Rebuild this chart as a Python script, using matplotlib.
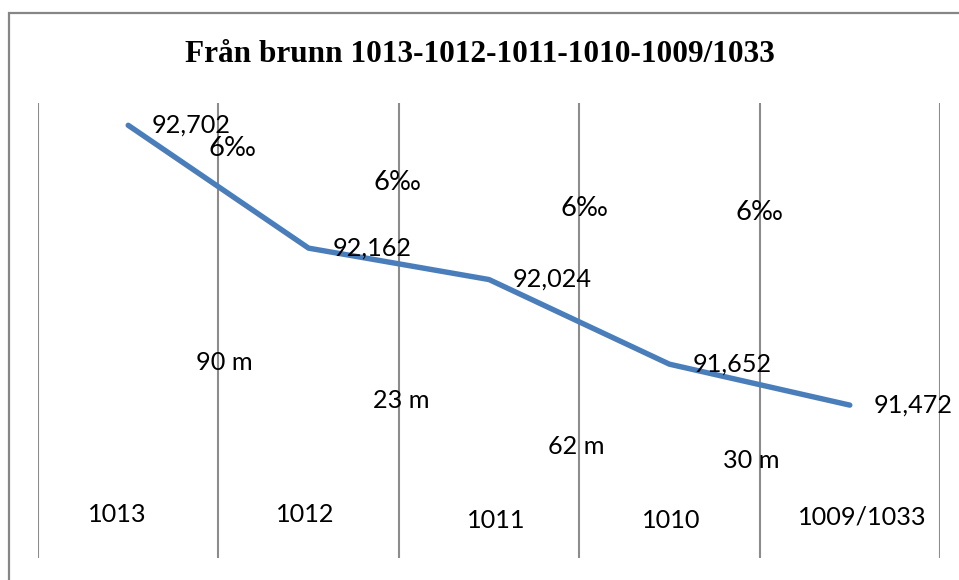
import matplotlib
matplotlib.use('Agg')
import matplotlib.pyplot as plt
from matplotlib.patches import Rectangle

# data
wells = ['1013', '1012', '1011', '1010', '1009/1033']
levels = [92.702, 92.162, 92.024, 91.652, 91.472]
level_labels = ['92,702', '92,162', '92,024', '91,652', '91,472']
slopes = ['6‰', '6‰', '6‰', '6‰']
lengths = ['90 m', '23 m', '62 m', '30 m']
title = 'Från brunn 1013-1012-1011-1010-1009/1033'

W, H = 959, 580
fig = plt.figure(figsize=(W / 100, H / 100), dpi=100)

# outer chart frame (runs off the image at right and bottom)
fig.patches.append(Rectangle((9 / W, -0.1), 1.2, (H - 13) / H + 0.1,
                             transform=fig.transFigure, fill=False,
                             edgecolor='#868686', linewidth=1.6))

left, right, top, bottom = 38, 940, 103, 558
ax = fig.add_axes([left / W, (H - bottom) / H, (right - left) / W, (bottom - top) / H])
ax.set_xlim(-0.5, len(wells) - 0.5)
ax.set_ylim(90.8, 92.8)
ax.axis('off')

for xg in range(len(wells) + 1):
    ax.axvline(xg - 0.5, color='#8c8c8c', linewidth=1.5, zorder=1)

x = list(range(len(wells)))
ax.plot(x, levels, color='#4a7ebb', linewidth=3.9, solid_capstyle='round', zorder=3)

font = 'Lato'
fs = 18.2
for xi, yi, lab in zip(x, levels, level_labels):
    ax.annotate(lab, (xi, yi), xytext=(17, 0), textcoords='offset points',
                ha='left', va='center', fontsize=fs, family=font, zorder=4)


def px(xp, yp):
    # pixel position -> data coords
    return ((xp - left) / (right - left) * len(wells) - 0.5,
            92.8 - (yp - top) / (bottom - top) * 2.0)


slope_pos = [(232, 148), (397, 183), (584, 208), (759, 213)]
for lab, (xp, yp) in zip(slopes, slope_pos):
    ax.text(*px(xp, yp), lab, ha='center', va='center', fontsize=fs + 1.5, family=font)

length_pos = [(224, 363), (401, 400), (576, 447), (751, 460)]
for lab, (xp, yp) in zip(lengths, length_pos):
    ax.text(*px(xp, yp), lab, ha='center', va='center', fontsize=fs, family=font)

well_pos = [(117, 515), (305, 515), (496, 520), (671, 521), (862, 517)]
for lab, (xp, yp) in zip(wells, well_pos):
    ax.text(*px(xp, yp), lab, ha='center', va='center', fontsize=fs, family=font)

fig.text(480 / W, 1 - 55 / H, title, ha='center', va='center',
         fontsize=22.5, fontweight='bold', family='Liberation Serif')

fig.savefig('out.png', dpi=100)
